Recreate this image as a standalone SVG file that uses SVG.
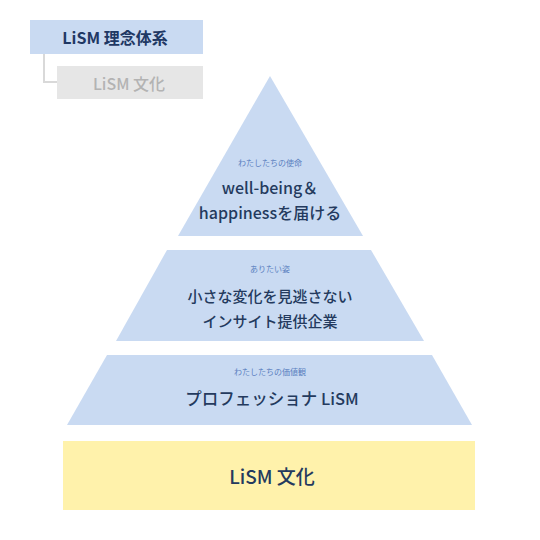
<svg xmlns="http://www.w3.org/2000/svg" width="540" height="540" viewBox="0 0 540 540">
<style>
.t{font-family:"Noto Sans CJK JP","Noto Sans",sans-serif;text-anchor:middle}
.main{fill:#243a5e;font-weight:500}
.sub{fill:#5a7fbf;font-size:8px}
.blue{fill:#c9daf2}
</style>
<rect width="540" height="540" fill="#fff"/>
<g id="connectors">
<polyline points="44,54 44,82 57,82" fill="none" stroke="#d9d9d9" stroke-width="2"/>
</g>
<g id="legend-main">
<rect x="30" y="20" width="173" height="34" class="blue"/>
<text class="t" x="115" y="44" font-size="16" fill="#1f3864" font-weight="600">LiSM 理念体系</text>
</g>
<g id="legend-sub">
<rect x="57" y="66" width="146" height="33" fill="#e6e6e6"/>
<text class="t" x="129" y="90" font-size="16" fill="#b3b3b3" font-weight="500">LiSM 文化</text>
</g>
<g id="mission">
<polygon points="270,76 363,236 178,236" class="blue"/>
<text class="t sub" x="270" y="166">わたしたちの使命</text>
<text class="t main" x="270" y="194" font-size="16">well-being＆</text>
<text class="t main" x="270" y="219" font-size="16">happinessを届ける</text>
</g>
<g id="vision">
<polygon points="167,250 371,250 424,341 116,341" class="blue"/>
<text class="t sub" x="270" y="272">ありたい姿</text>
<text class="t main" x="270" y="302" font-size="15">小さな変化を見逃さない</text>
<text class="t main" x="270" y="327" font-size="15">インサイト提供企業</text>
</g>
<g id="values">
<polygon points="107,355 432,355 472,425 67,425" class="blue"/>
<text class="t sub" x="270" y="375">わたしたちの価値観</text>
<text class="t main" x="272" y="405" font-size="16.5">プロフェッショナ LiSM</text>
</g>
<g id="culture">
<rect x="63" y="441" width="412" height="69" fill="#fff2ab"/>
<text class="t main" x="272" y="484" font-size="19">LiSM 文化</text>
</g>
</svg>
